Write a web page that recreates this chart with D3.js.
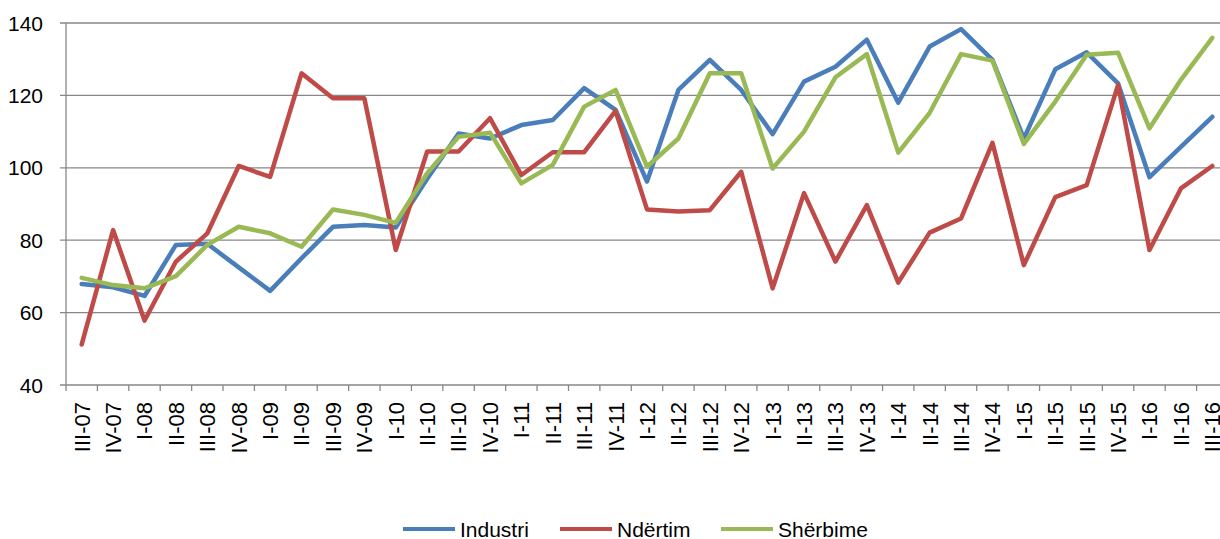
<!DOCTYPE html>
<html>
<head>
<meta charset="utf-8">
<script src="https://cdn.jsdelivr.net/npm/d3@7"></script>
<style>
  body { margin: 0; background: #fff; }
  svg { display: block; font-family: "Liberation Sans", Arial, sans-serif; }
</style>
</head>
<body>
<div id="chart"></div>
<script>
// quarters III-07 .. III-16
const quarters = ["III-07","IV-07","I-08","II-08","III-08","IV-08","I-09","II-09","III-09","IV-09",
  "I-10","II-10","III-10","IV-10","I-11","II-11","III-11","IV-11","I-12","II-12","III-12","IV-12",
  "I-13","II-13","III-13","IV-13","I-14","II-14","III-14","IV-14","I-15","II-15","III-15","IV-15",
  "I-16","II-16","III-16"];

const industri = [67.9,67,64.6,78.7,79,72.5,66,75,83.7,84.2,83.5,97,109.5,108.1,111.8,113.2,122,116,
  96.2,121.5,129.8,121.5,109.3,123.8,127.9,135.4,118,133.5,138.3,129.8,108.1,127.2,131.9,123.3,97.4,105.8,114.1];

const ndertim = [51.2,82.8,57.8,74.1,81.9,100.5,97.5,126.1,119.2,119.2,77.3,104.5,104.5,113.7,98,104.3,104.3,
  115.7,88.5,87.9,88.3,98.9,66.7,93,74.1,89.7,68.3,82.1,86,106.9,73.1,91.9,95.2,122.9,77.3,94.3,100.5];

const sherbime = [69.6,67.6,66.7,70.1,78.7,83.7,81.9,78.2,88.5,87,84.8,98.5,108.6,109.7,95.7,100.8,116.9,
  121.5,100.3,108.1,126.1,126.1,99.8,110,125,131.4,104.2,115.2,131.4,129.6,106.6,118.3,131.2,131.8,110.9,124.3,135.9];

const yTicks = [40, 60, 80, 100, 120, 140];

const series = [
  { name: "Industri", values: industri, color: "#4A7EBB" },
  { name: "Ndërtim", values: ndertim, color: "#BE4B48" },
  { name: "Shërbime", values: sherbime, color: "#98B954" }
];

const width = 1220, height = 539;
const m = { left: 66, right: 1228, top: 23, bottom: 385 };

const svg = d3.select("#chart").append("svg")
  .attr("width", width)
  .attr("height", height);

const x = d3.scaleBand().domain(quarters).range([m.left, m.right]);
const y = d3.scaleLinear().domain([40, 140]).range([m.bottom, m.top]);

const gridColor = "#878787";

// gridlines + y ticks
svg.append("g")
  .selectAll("line")
  .data(yTicks)
  .enter()
  .append("line")
  .attr("x1", m.left - 6)
  .attr("x2", width)
  .attr("y1", d => y(d))
  .attr("y2", d => y(d))
  .attr("stroke", gridColor)
  .attr("stroke-width", 1.3);

// y axis line
svg.append("line")
  .attr("x1", m.left).attr("x2", m.left)
  .attr("y1", m.top).attr("y2", m.bottom)
  .attr("stroke", gridColor)
  .attr("stroke-width", 1.3);

// x ticks (between categories)
svg.append("g")
  .selectAll("line")
  .data(quarters)
  .enter()
  .append("line")
  .attr("x1", d => x(d))
  .attr("x2", d => x(d))
  .attr("y1", m.bottom)
  .attr("y2", m.bottom + 6)
  .attr("stroke", gridColor)
  .attr("stroke-width", 1.3);

// y labels
svg.append("g")
  .selectAll("text")
  .data(yTicks)
  .enter()
  .append("text")
  .attr("x", 43)
  .attr("y", d => y(d))
  .attr("dy", "0.36em")
  .attr("text-anchor", "end")
  .attr("font-size", "21px")
  .attr("fill", "#000")
  .text(d => d);

// x labels (rotated)
svg.append("g")
  .selectAll("text")
  .data(quarters)
  .enter()
  .append("text")
  .attr("transform", d => `translate(${x(d) + x.bandwidth() / 2},402) rotate(-90)`)
  .attr("dy", "0.36em")
  .attr("text-anchor", "end")
  .attr("font-size", "22px")
  .attr("fill", "#000")
  .text(d => d);

// lines
const line = d3.line()
  .x((d, i) => x(quarters[i]) + x.bandwidth() / 2)
  .y(d => y(d));

svg.append("g")
  .selectAll("path")
  .data(series)
  .enter()
  .append("path")
  .attr("d", d => line(d.values))
  .attr("fill", "none")
  .attr("stroke", d => d.color)
  .attr("stroke-width", 4.5)
  .attr("stroke-linejoin", "round")
  .attr("stroke-linecap", "round");

// legend
const legendX = [403, 560, 721];
const legend = svg.append("g");
series.forEach((s, i) => {
  legend.append("line")
    .attr("x1", legendX[i]).attr("x2", legendX[i] + 52)
    .attr("y1", 529).attr("y2", 529)
    .attr("stroke", s.color)
    .attr("stroke-width", 4);
  legend.append("text")
    .attr("x", legendX[i] + 57)
    .attr("y", 529)
    .attr("dy", "0.36em")
    .attr("font-size", "21px")
    .attr("fill", "#000")
    .text(s.name);
});
</script>
</body>
</html>
